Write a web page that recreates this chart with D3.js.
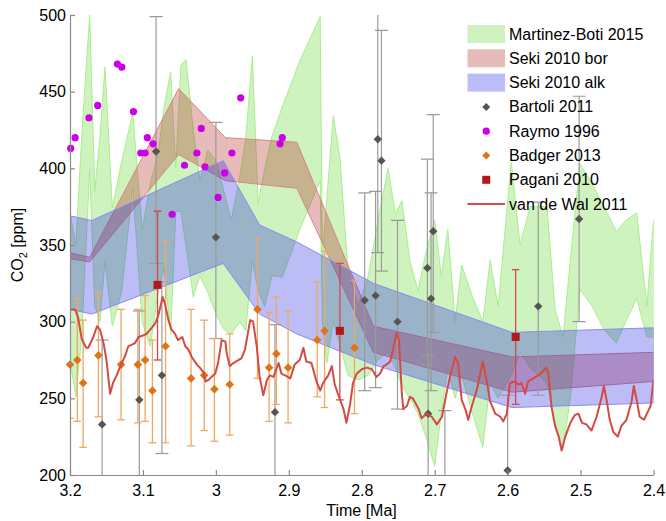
<!DOCTYPE html>
<html>
<head>
<meta charset="utf-8">
<script src="https://cdn.jsdelivr.net/npm/d3@7"></script>
<style>
  body { margin: 0; background: #fff; }
  svg { display: block; }
  text { font-family: "Liberation Sans", Arial, Helvetica, sans-serif; }
</style>
</head>
<body>
<svg id="chart" width="666" height="521"></svg>
<script>
// ---- Axis ticks ----
const xTicks = [3.2, 3.1, 3.0, 2.9, 2.8, 2.7, 2.6, 2.5, 2.4];
const yTicks = [200, 250, 300, 350, 400, 450, 500];

// ---- Martinez-Boti 2015 (envelope) ----
const mbAge = [3.200, 3.192, 3.184, 3.173, 3.166, 3.159, 3.152, 3.142, 3.129, 3.114, 3.101, 3.090,
  3.079, 3.071, 3.062, 3.055, 3.048, 3.041, 3.031, 3.022, 3.011, 3.000, 2.989, 2.979, 2.967, 2.959,
  2.950, 2.942, 2.933, 2.923, 2.909, 2.885, 2.857, 2.854, 2.848, 2.839, 2.830, 2.819, 2.805, 2.791,
  2.778, 2.764, 2.754, 2.745, 2.734, 2.723, 2.712, 2.700, 2.691, 2.682, 2.672, 2.663, 2.648, 2.634,
  2.624, 2.613, 2.595, 2.583, 2.569, 2.546, 2.535, 2.524, 2.514, 2.501, 2.484, 2.468, 2.451, 2.438,
  2.423, 2.409, 2.400];
const mbHi = [371, 350, 420, 500, 385, 420, 466, 374, 405, 436, 360, 390,
  410, 440, 463, 400, 467, 471, 425, 392, 412, 405, 385, 366, 395, 420,
  473, 377, 400, 421, 440, 470, 499, 342, 380, 434, 407, 335, 310, 330,
  365, 400, 370, 379, 340, 320, 345, 366, 330, 360, 300, 337, 316, 300,
  340, 310, 404, 350, 375, 375, 308, 290, 340, 403, 390, 375, 359, 366,
  371, 310, 366];
const mbLo = [275, 251, 290, 400, 310, 300, 340, 297, 320, 388, 300, 284,
  320, 335, 292, 372, 372, 350, 316, 330, 319, 305, 295, 292, 300, 294,
  340, 320, 310, 330, 329, 360, 392, 300, 273, 300, 285, 265, 262, 265,
  275, 280, 270, 258, 250, 240, 225, 206, 240, 270, 250, 265, 240, 218,
  260, 250, 265, 280, 270, 260, 235, 217, 250, 321, 310, 295, 286, 300,
  315, 290, 290];

// ---- Seki 2010, boron based ----
const sekiBorAge = [3.200, 3.173, 3.051, 2.987, 2.889, 2.784, 2.594, 2.400];
const sekiBorLo = [341, 339, 409, 392, 387, 280, 254, 261];
const sekiBorHi = [345, 342, 452, 420, 417, 297, 277, 280];

// ---- Seki 2010, alkenone based ----
const sekiAlkAge = [3.200, 3.170, 2.990, 2.940, 2.889, 2.784, 2.594, 2.400];
const sekiAlkLo = [308, 305, 338, 305, 292, 272, 244, 247];
const sekiAlkHi = [369, 366, 405, 363, 352, 325, 293, 296];

// ---- Bartoli 2011 ----
const bartoliAge = [3.156, 3.105, 3.082, 3.074, 3.000, 2.919, 2.796, 2.781, 2.778, 2.773,
  2.751, 2.710, 2.709, 2.705, 2.702, 2.686, 2.600, 2.558, 2.502];
const bartoliCO2 = [233, 249, 411, 265, 355, 241, 314, 317, 419, 405,
  300, 335, 240, 315, 359, 190, 203, 310, 367];
const bartoliLo = [179, 192, 338, 214, 289, 184, 255, 257, 345, 333,
  243, 272, 199, 255, 293, 138, 155, 252, 300];
const bartoliHi = [288, 307, 499, 326, 430, 298, 384, 385, 505, 490,
  366, 406, 278, 384, 435, 242, 252, 378, 447];

// ---- Raymo 1996 ----
const raymoAge = [3.199, 3.193, 3.174, 3.162, 3.135, 3.129, 3.113, 3.103, 3.097, 3.094, 3.086,
  3.060, 3.043, 3.026, 3.020, 3.015, 2.997, 2.988, 2.978, 2.966, 2.912, 2.909];
const raymoCO2 = [413, 420, 433, 441, 468, 466, 437, 410, 410, 420, 416,
  370, 402, 410, 426, 401, 381, 397, 410, 446, 416, 420];

// ---- Badger 2013 ----
const badgerAge = [3.200, 3.190, 3.182, 3.161, 3.130, 3.107, 3.097, 3.087, 3.069, 3.034,
  3.016, 3.002, 2.981, 2.943, 2.927, 2.917, 2.901, 2.861, 2.851, 2.810];
const badgerCO2 = [272, 275, 260, 278, 272, 272, 275, 255, 284, 263,
  265, 256, 259, 308, 270, 279, 270, 288, 294, 283];
const badgerLo = [237, 235, 218, 238, 236, 234, 235, 221, 221, 219,
  229, 222, 226, 263, 235, 246, 234, 251, 244, 240];
const badgerHi = [308, 315, 301, 319, 308, 308, 317, 288, 353, 308,
  301, 289, 292, 354, 306, 316, 307, 326, 346, 327];

// ---- Pagani 2010 ----
const paganiAge = [3.080, 2.830, 2.589];
const paganiCO2 = [324, 294, 290];
const paganiLo = [275, 249, 246];
const paganiHi = [372, 338, 334];

// ---- van de Wal 2011 ----
const vdwAge = [3.200, 3.193, 3.189, 3.184, 3.178, 3.175, 3.168, 3.163, 3.159, 3.154, 3.150, 3.145,
  3.141, 3.136, 3.131, 3.125, 3.120, 3.115, 3.111, 3.106, 3.100, 3.095, 3.088, 3.083, 3.079, 3.073,
  3.070, 3.065, 3.061, 3.056, 3.052, 3.046, 3.042, 3.038, 3.033, 3.026, 3.022, 3.017, 3.014, 3.010,
  3.006, 3.001, 2.997, 2.992, 2.987, 2.985, 2.981, 2.976, 2.969, 2.965, 2.960, 2.953, 2.949, 2.944,
  2.940, 2.935, 2.930, 2.926, 2.921, 2.914, 2.910, 2.905, 2.898, 2.892, 2.885, 2.880, 2.876, 2.869,
  2.862, 2.857, 2.853, 2.846, 2.841, 2.837, 2.832, 2.825, 2.821, 2.816, 2.812, 2.807, 2.800, 2.793,
  2.786, 2.780, 2.775, 2.770, 2.766, 2.761, 2.757, 2.752, 2.749, 2.745, 2.743, 2.738, 2.734, 2.730,
  2.722, 2.718, 2.711, 2.704, 2.697, 2.690, 2.684, 2.679, 2.672, 2.668, 2.663, 2.658, 2.654, 2.649,
  2.642, 2.634, 2.629, 2.624, 2.617, 2.610, 2.606, 2.601, 2.597, 2.591, 2.585, 2.581, 2.576, 2.572,
  2.565, 2.558, 2.553, 2.547, 2.544, 2.540, 2.535, 2.530, 2.526, 2.521, 2.514, 2.508, 2.503, 2.498,
  2.492, 2.485, 2.478, 2.471, 2.468, 2.464, 2.460, 2.455, 2.449, 2.444, 2.437, 2.430, 2.427, 2.423,
  2.419, 2.413, 2.409, 2.404, 2.400];
const vdwCO2 = [308, 308, 303, 289, 283, 283, 290, 297, 295, 286, 275, 253,
  260, 265, 271, 277, 284, 285, 286, 290, 291, 292, 296, 299, 304, 316,
  312, 301, 295, 292, 288, 290, 284, 282, 277, 272, 270, 267, 261, 262,
  264, 266, 273, 288, 287, 279, 271, 273, 275, 276, 282, 301, 300, 284,
  264, 252, 262, 265, 264, 273, 266, 265, 263, 272, 275, 283, 274, 273,
  261, 255, 260, 265, 271, 259, 252, 243, 234, 246, 260, 266, 269, 270,
  269, 264, 266, 271, 272, 274, 282, 293, 288, 253, 243, 245, 251, 250,
  243, 237, 240, 238, 233, 238, 253, 264, 277, 273, 249, 243, 236, 245,
  256, 274, 262, 248, 240, 238, 235, 240, 260, 261, 259, 260, 253, 261,
  263, 265, 267, 270, 266, 245, 232, 225, 216, 225, 234, 239, 240, 234,
  233, 229, 238, 251, 258, 248, 236, 228, 225, 232, 236, 248, 258, 249,
  238, 236, 240, 245, 262];

// ---- Legend entries ----
const legendLabels = ["Martinez-Boti 2015", "Seki 2010 bor", "Seki 2010 alk", "Bartoli 2011",
  "Raymo 1996", "Badger 2013", "Pagani 2010", "van de Wal 2011"];

// ---- Styles ----
const C = {
  mbFill: "#5fd82a", mbEdge: "#a8ee8c",
  borFill: "#b41e1e", borEdge: "#d98585",
  alkFill: "#2020e0", alkEdge: "#8a8af2",
  bartoli: "#555555", bartoliBar: "#9a9a9a",
  raymo: "#cc00e6",
  badger: "#df7410", badgerBar: "#f0a860",
  pagani: "#b51818", paganiBar: "#d44848",
  vdw: "#d44a44",
  axis: "#8a8a8a"
};

const svg = d3.select("#chart");
const x = d3.scaleLinear().domain([3.2, 2.4]).range([70, 653.5]);
const y = d3.scaleLinear().domain([200, 500]).range([475, 15]);

svg.append("defs").append("clipPath").attr("id", "plotClip")
  .append("rect").attr("x", 70).attr("y", 15).attr("width", 583.5).attr("height", 460);

// layers, bottom to top
const bandLayer = svg.append("g").attr("clip-path", "url(#plotClip)");
const barLayer = svg.append("g").attr("clip-path", "url(#plotClip)");
const markerLayer = svg.append("g");
const lineLayer = svg.append("g").attr("clip-path", "url(#plotClip)");

// Shaded envelopes
function band(age, lo, hi, fill, edge) {
  const rows = age.map((a, i) => ({ a, lo: lo[i], hi: hi[i] }));
  const area = d3.area().x(d => x(d.a)).y0(d => y(d.lo)).y1(d => y(d.hi));
  bandLayer.append("path").datum(rows).attr("d", area)
    .attr("fill", fill).attr("fill-opacity", 0.3)
    .attr("stroke", edge).attr("stroke-width", 1).attr("stroke-linejoin", "round");
}
band(mbAge, mbLo, mbHi, C.mbFill, C.mbEdge);
band(sekiBorAge, sekiBorLo, sekiBorHi, C.borFill, C.borEdge);
band(sekiAlkAge, sekiAlkLo, sekiAlkHi, C.alkFill, C.alkEdge);

// Error bars with caps
function errorBars(age, lo, hi, color, capHalf, width) {
  const g = barLayer.append("g").attr("stroke", color).attr("stroke-width", width).attr("fill", "none");
  age.forEach((a, i) => {
    const cx = x(a);
    g.append("line").attr("x1", cx).attr("x2", cx).attr("y1", y(lo[i])).attr("y2", y(hi[i]));
    g.append("line").attr("x1", cx - capHalf).attr("x2", cx + capHalf).attr("y1", y(lo[i])).attr("y2", y(lo[i]));
    g.append("line").attr("x1", cx - capHalf).attr("x2", cx + capHalf).attr("y1", y(hi[i])).attr("y2", y(hi[i]));
  });
}

const diamond = s => `M0,${-s}L${s},0L0,${s}L${-s},0Z`;
const inDomain = (a, v) => a <= 3.2 + 1e-9 && a >= 2.4 - 1e-9 && v >= 200 && v <= 500;

// Bartoli 2011
errorBars(bartoliAge, bartoliLo, bartoliHi, C.bartoliBar, 6.5, 1.2);
bartoliAge.forEach((a, i) => {
  if (!inDomain(a, bartoliCO2[i])) return;
  markerLayer.append("path").attr("d", diamond(4.2))
    .attr("transform", `translate(${x(a)},${y(bartoliCO2[i])})`).attr("fill", C.bartoli);
});

// Raymo 1996
raymoAge.forEach((a, i) => {
  if (!inDomain(a, raymoCO2[i])) return;
  markerLayer.append("circle").attr("cx", x(a)).attr("cy", y(raymoCO2[i])).attr("r", 3.6).attr("fill", C.raymo);
});

// Badger 2013
errorBars(badgerAge, badgerLo, badgerHi, C.badgerBar, 3.8, 1.3);
badgerAge.forEach((a, i) => {
  if (!inDomain(a, badgerCO2[i])) return;
  markerLayer.append("path").attr("d", diamond(4.3))
    .attr("transform", `translate(${x(a)},${y(badgerCO2[i])})`).attr("fill", C.badger);
});

// Pagani 2010
errorBars(paganiAge, paganiLo, paganiHi, C.paganiBar, 3.8, 1.3);
paganiAge.forEach((a, i) => {
  markerLayer.append("rect").attr("x", x(a) - 4).attr("y", y(paganiCO2[i]) - 4)
    .attr("width", 8).attr("height", 8).attr("fill", C.pagani);
});

// van de Wal 2011
const vdwRows = vdwAge.map((a, i) => ({ a, v: vdwCO2[i] }));
lineLayer.append("path").datum(vdwRows)
  .attr("d", d3.line().x(d => x(d.a)).y(d => y(d.v)))
  .attr("fill", "none").attr("stroke", C.vdw).attr("stroke-width", 2).attr("stroke-linejoin", "round");

// Axes
const xAxis = d3.axisBottom(x).tickValues(xTicks).tickSizeInner(-5).tickSizeOuter(0)
  .tickPadding(10).tickFormat(d => String(+d.toFixed(1)));
const yAxis = d3.axisLeft(y).tickValues(yTicks).tickSizeInner(-5).tickSizeOuter(0)
  .tickPadding(4).tickFormat(d => String(d));

const gx = svg.append("g").attr("transform", "translate(0,475)").call(xAxis);
const gy = svg.append("g").attr("transform", "translate(70,0)").call(yAxis);
[gx, gy].forEach(g => {
  g.select(".domain").attr("stroke", C.axis).attr("stroke-width", 1.2);
  g.selectAll(".tick line").attr("stroke", C.axis).attr("stroke-width", 1.2);
  g.selectAll(".tick text").attr("fill", "#000").attr("font-size", 16)
    .attr("font-family", "'Liberation Sans', Arial, sans-serif");
});

// Axis titles
svg.append("text").attr("x", 361.5).attr("y", 516).attr("text-anchor", "middle")
  .attr("font-size", 16).attr("fill", "#000").text("Time [Ma]");
const yl = svg.append("text").attr("transform", "translate(23,245) rotate(-90)")
  .attr("text-anchor", "middle").attr("font-size", 16).attr("fill", "#000");
yl.append("tspan").text("CO");
yl.append("tspan").attr("font-size", 11).attr("dy", 4).text("2");
yl.append("tspan").attr("dy", -4).text(" [ppm]");

// Legend
const leg = svg.append("g");
const legX0 = 467.5, legX1 = 505, legTextX = 509, legY0 = 34, legStep = 24.3;
legendLabels.forEach((lab, i) => {
  const cy = legY0 + i * legStep;
  const mx = (legX0 + legX1) / 2;
  if (i <= 2) {
    const fill = [C.mbFill, C.borFill, C.alkFill][i];
    leg.append("rect").attr("x", legX0).attr("y", cy - 9).attr("width", legX1 - legX0).attr("height", 18)
      .attr("fill", fill).attr("fill-opacity", 0.3);
  } else if (i === 3) {
    leg.append("path").attr("d", diamond(4)).attr("transform", `translate(${mx},${cy})`).attr("fill", C.bartoli);
  } else if (i === 4) {
    leg.append("circle").attr("cx", mx).attr("cy", cy).attr("r", 3.6).attr("fill", C.raymo);
  } else if (i === 5) {
    leg.append("path").attr("d", diamond(4)).attr("transform", `translate(${mx},${cy})`).attr("fill", C.badger);
  } else if (i === 6) {
    leg.append("rect").attr("x", mx - 4).attr("y", cy - 4).attr("width", 8).attr("height", 8).attr("fill", C.pagani);
  } else {
    leg.append("line").attr("x1", legX0).attr("x2", legX1).attr("y1", cy).attr("y2", cy)
      .attr("stroke", C.vdw).attr("stroke-width", 2);
  }
  leg.append("text").attr("x", legTextX).attr("y", cy + 5.5).attr("font-size", 16).attr("fill", "#000").text(lab);
});
</script>
</body>
</html>
